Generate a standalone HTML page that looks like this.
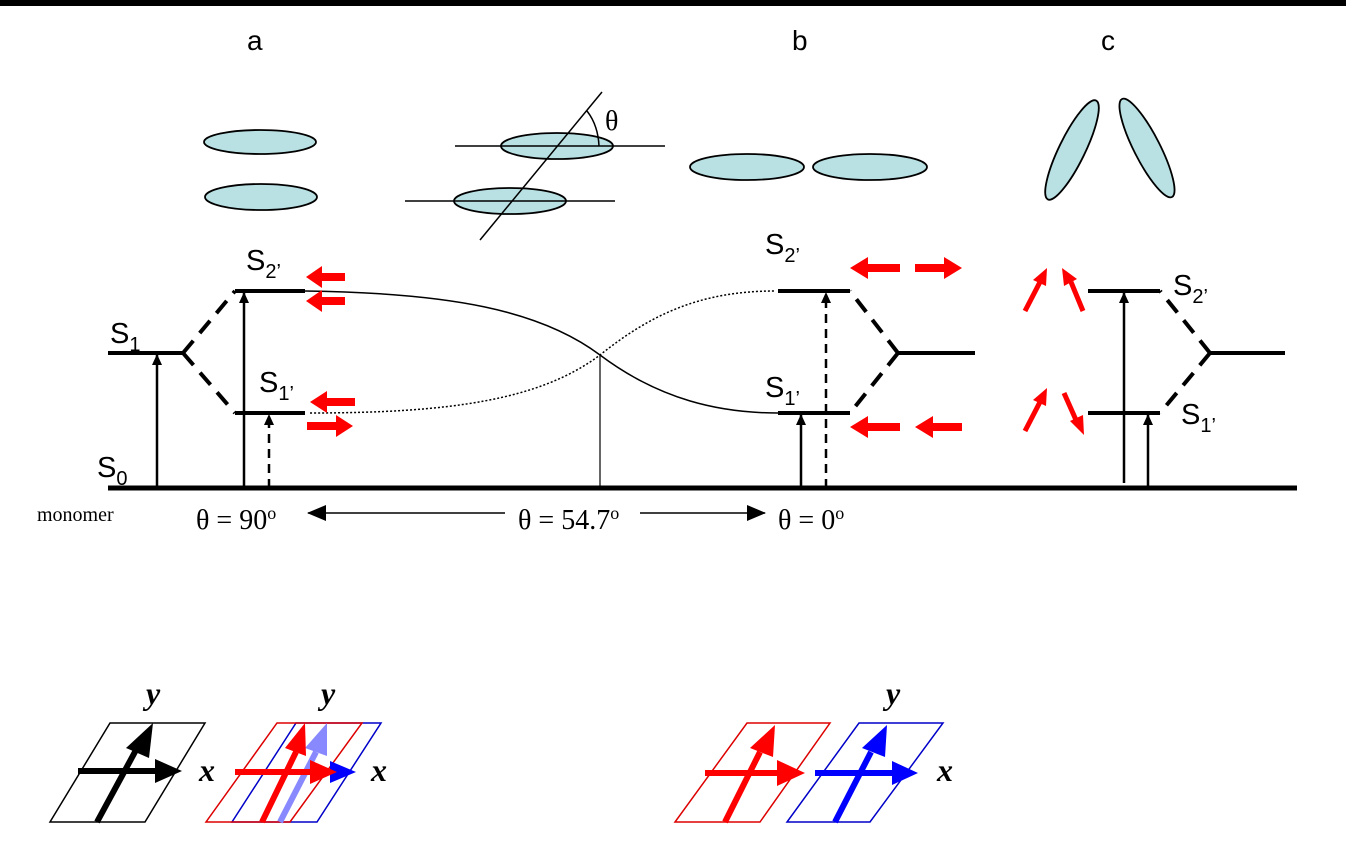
<!DOCTYPE html>
<html><head><meta charset="utf-8"><style>html,body{margin:0;padding:0;background:#fff}svg{display:block}</style></head>
<body>
<svg width="1346" height="864" viewBox="0 0 1346 864" xmlns="http://www.w3.org/2000/svg">
<defs>
<marker id="ah" markerWidth="12" markerHeight="12" refX="10" refY="6" orient="auto" markerUnits="userSpaceOnUse"><path d="M0,1 L11,6 L0,11 z" fill="#000"/></marker>
<marker id="ahL" markerWidth="20" markerHeight="16" refX="18" refY="8" orient="auto" markerUnits="userSpaceOnUse"><path d="M0,0 L19,8 L0,16 z" fill="#000"/></marker>
</defs>
<rect x="0" y="0" width="1346" height="6" fill="#000"/>
<g font-family="Liberation Sans, sans-serif" font-size="28" fill="#000">
<text x="247" y="50">a</text><text x="792" y="50">b</text><text x="1101" y="50">c</text>
</g>
<g fill="#b9e0e3" stroke="#000" stroke-width="1.8">
<ellipse cx="260" cy="142" rx="56" ry="12"/>
<ellipse cx="261" cy="197" rx="56" ry="13"/>
<ellipse cx="557" cy="146" rx="56" ry="13"/>
<ellipse cx="510" cy="201" rx="56" ry="13"/>
<ellipse cx="747" cy="167" rx="57" ry="13"/>
<ellipse cx="870" cy="167" rx="57" ry="13"/>
<ellipse cx="1072" cy="150" rx="13" ry="55" transform="rotate(26 1072 150)"/>
<ellipse cx="1147" cy="148" rx="13" ry="55" transform="rotate(-27 1147 148)"/>
</g>
<g stroke="#000" stroke-width="1.5" fill="none">
<line x1="455" y1="146" x2="665" y2="146"/>
<line x1="405" y1="201" x2="615" y2="201"/>
<line x1="480" y1="240" x2="602" y2="92"/>
<path d="M587,111 Q598,125 599,146"/>
</g>
<text x="605" y="130" font-family="Liberation Serif, serif" font-size="28">θ</text>
<g stroke="#000" stroke-width="4" fill="none">
<line x1="108" y1="488" x2="1297" y2="488" stroke-width="5"/>
<line x1="108" y1="353" x2="183" y2="353"/>
<line x1="235" y1="291" x2="305" y2="291"/>
<line x1="235" y1="413" x2="305" y2="413"/>
<path d="M183,353 L235,291 M183,353 L235,413" stroke-dasharray="16,10"/>
<line x1="778" y1="291" x2="850" y2="291"/>
<line x1="778" y1="413" x2="850" y2="413"/>
<path d="M898,353 L850,291 M898,353 L850,413" stroke-dasharray="16,10"/>
<line x1="898" y1="353" x2="975" y2="353"/>
<line x1="1088" y1="291" x2="1160" y2="291"/>
<line x1="1088" y1="413" x2="1160" y2="413"/>
<path d="M1210,353 L1160,291 M1210,353 L1160,413" stroke-dasharray="16,10"/>
<line x1="1210" y1="353" x2="1285" y2="353"/>
</g>
<g stroke="#000" stroke-width="2.5" fill="none" marker-end="url(#ah)">
<line x1="157" y1="488" x2="157" y2="355"/>
<line x1="244" y1="488" x2="244" y2="293"/>
<line x1="269" y1="488" x2="269" y2="415" stroke-dasharray="9,6"/>
<line x1="801" y1="488" x2="801" y2="415"/>
<line x1="826" y1="488" x2="826" y2="293" stroke-dasharray="9,6"/>
<line x1="1124" y1="483" x2="1124" y2="293"/>
<line x1="1148" y1="488" x2="1148" y2="415"/>
</g>
<g fill="none" stroke="#000">
<path d="M305,291 C450,293 540,310 600,355 C660,400 720,413 778,413" stroke-width="1.5"/>
<path d="M310,413 C450,413 540,400 600,355 C650,315 700,291 775,291" stroke-width="1.5" stroke-dasharray="2,2"/>
<line x1="600" y1="355" x2="600" y2="488" stroke-width="1.2"/>
</g>
<g font-family="Liberation Sans, sans-serif" font-size="29" fill="#000">
<text x="110" y="343">S<tspan font-size="20" dy="8">1</tspan></text>
<text x="97" y="477">S<tspan font-size="20" dy="8">0</tspan></text>
<text x="246" y="270">S<tspan font-size="20" dy="8">2’</tspan></text>
<text x="259" y="392">S<tspan font-size="20" dy="8">1’</tspan></text>
<text x="765" y="254">S<tspan font-size="20" dy="8">2’</tspan></text>
<text x="765" y="397">S<tspan font-size="20" dy="8">1’</tspan></text>
<text x="1173" y="295">S<tspan font-size="20" dy="8">2’</tspan></text>
<text x="1181" y="424">S<tspan font-size="20" dy="8">1’</tspan></text>
</g>
<g fill="#f00">
<path d="M345,273 L322,273 L322,266 L306,277 L322,288 L322,281 L345,281z"/>
<path d="M345,297 L322,297 L322,290 L306,301 L322,312 L322,305 L345,305z"/>
<path d="M355,398 L327,398 L327,391 L310,402 L327,413 L327,406 L355,406z"/>
<path d="M307,422 L336,422 L336,415 L353,426 L336,437 L336,430 L307,430z"/>
<path d="M900,264 L868,264 L868,257 L850,268 L868,279 L868,272 L900,272z"/>
<path d="M915,264 L944,264 L944,257 L962,268 L944,279 L944,272 L915,272z"/>
<path d="M900,423 L868,423 L868,416 L850,427 L868,438 L868,431 L900,431z"/>
<path d="M962,423 L933,423 L933,416 L915,427 L933,438 L933,431 L962,431z"/>
</g>
<g stroke="#f00" stroke-width="5">
<line x1="1025" y1="311" x2="1040" y2="282"/>
<line x1="1083" y1="311" x2="1071" y2="282"/>
<line x1="1025" y1="431" x2="1040" y2="402"/>
<line x1="1064" y1="393" x2="1076" y2="420"/>
</g>
<g fill="#f00">
<polygon points="1047,268 1033,280 1046,286"/>
<polygon points="1062,268 1064,286 1077,279"/>
<polygon points="1047,388 1033,400 1046,406"/>
<polygon points="1084,435 1083,415 1070,421"/>
</g>
<g font-family="Liberation Serif, serif" fill="#000">
<text x="37" y="521" font-size="20">monomer</text>
<text x="196" y="529" font-size="28">θ = 90<tspan font-size="18" dy="-10">o</tspan></text>
<text x="518" y="529" font-size="28">θ = 54.7<tspan font-size="18" dy="-10">o</tspan></text>
<text x="778" y="529" font-size="28">θ = 0<tspan font-size="18" dy="-10">o</tspan></text>
</g>
<g stroke="#000" stroke-width="1.5" marker-end="url(#ahL)">
<line x1="505" y1="513" x2="308" y2="513"/>
<line x1="640" y1="513" x2="765" y2="513"/>
</g>
<g fill="none" stroke-width="1.5">
<polygon points="110,723 205,723 145,822 50,822" stroke="#000"/>
<polygon points="296,723 381,723 317,822 232,822" stroke="#0000c8"/>
<polygon points="277,723 362,723 290,822 206,822" stroke="#d00"/>
<polygon points="747,723 830,723 760,822 675,822" stroke="#d00"/>
<polygon points="859,723 943,723 870,822 787,822" stroke="#0000c8"/>
</g>
<g stroke-width="6">
<line x1="97" y1="822" x2="136" y2="750" stroke="#000"/>
<line x1="78" y1="771" x2="160" y2="771" stroke="#000"/>
<line x1="280" y1="822" x2="316" y2="752" stroke="#8888ff"/>
<line x1="235" y1="772" x2="320" y2="772" stroke="#f00"/>
<line x1="262" y1="822" x2="296" y2="752" stroke="#f00"/>
<line x1="725" y1="822" x2="760" y2="752" stroke="#f00"/>
<line x1="705" y1="773" x2="785" y2="773" stroke="#f00"/>
<line x1="835" y1="822" x2="871" y2="752" stroke="#00f"/>
<line x1="815" y1="773" x2="898" y2="773" stroke="#00f"/>
</g>
<g>
<polygon points="153,723 126,748 149,758" fill="#000"/>
<polygon points="182,771 155,759 155,783" fill="#000"/>
<polygon points="356,772 330,761 330,783" fill="#00f"/>
<polygon points="327,723 305,748 327,756" fill="#8888ff"/>
<polygon points="337,772 310,760 310,784" fill="#f00"/>
<polygon points="305,723 285,748 306,756" fill="#f00"/>
<polygon points="775,725 750,748 773,757" fill="#f00"/>
<polygon points="805,773 777,760 777,786" fill="#f00"/>
<polygon points="887,725 862,748 885,757" fill="#00f"/>
<polygon points="918,773 892,761 892,785" fill="#00f"/>
</g>
<g font-family="Liberation Serif, serif" font-style="italic" font-weight="bold" font-size="32" fill="#000">
<text x="146" y="704">y</text><text x="199" y="781">x</text>
<text x="321" y="704">y</text><text x="371" y="781">x</text>
<text x="886" y="704">y</text><text x="937" y="781">x</text>
</g>
</svg>
</body></html>
